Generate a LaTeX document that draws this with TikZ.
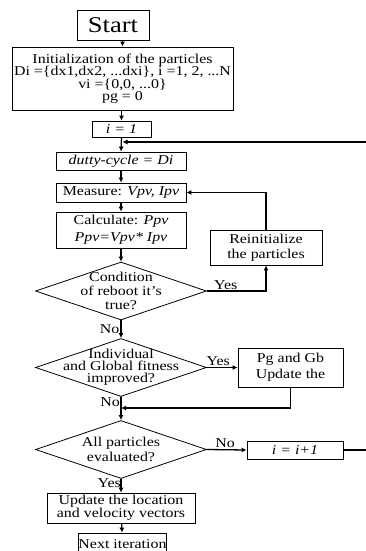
\documentclass[tikz,border=0pt]{standalone}
\usepackage{fontspec}
\setmainfont{Liberation Serif}[FakeStretch=1.18]
\usetikzlibrary{arrows.meta,positioning,calc,shapes.geometric}

\begin{document}
\begin{tikzpicture}[x=1pt,y=-1pt,
    box/.style={draw,line width=0.8pt,inner sep=0pt,align=center,
      font=\fontsize{13.5}{14}\selectfont},
    dia/.style={draw,diamond,line width=0.8pt,inner sep=0pt,
      minimum width=171pt,minimum height=58pt},
    arr/.style={line width=1.3pt,-{Latex[length=5pt,width=5pt]}},
    lbl/.style={inner sep=1pt,font=\fontsize{13.5}{14}\selectfont}]
  \useasboundingbox (0,0) rectangle (365,551);
  % main column
  \node[box,minimum width=72pt,minimum height=30pt,
    font=\fontsize{22.5}{24}\selectfont] (start) at (113,25) {Start};
  \node[box,minimum width=221pt,minimum height=63pt,
    font=\fontsize{13.5}{12.5}\selectfont] (init) at (122.5,78.5)
    {Initialization of the particles\\
     Di =\{dx1,dx2, ...dxi\}, i =1, 2, ...N\\
     vi =\{0,0, ...0\}\\ pg = 0};
  \node[box,minimum width=59pt,minimum height=16pt] (i1) at (121.5,129) {\textit{i = 1}};
  \node[box,minimum width=130pt,minimum height=18pt] (duty) at (121,161)
    {\textit{dutty-cycle = Di}};
  \node[box,minimum width=130pt,minimum height=19pt] (meas) at (121,192.5)
    {Measure: \textit{Vpv, Ipv}};
  \node[box,minimum width=130pt,minimum height=36pt,
    font=\fontsize{13.5}{16.5}\selectfont] (calc) at (121,230)
    {Calculate: \textit{Ppv}\\ \textit{Ppv=Vpv* Ipv}};
  \node[dia] (d1) at (121,291) {};
  \node[align=center,font=\fontsize{13.5}{14}\selectfont] at (d1)
    {Condition\\ of reboot it\char"0027 s\\ true?};
  \node[dia] (d2) at (121,367.5) {};
  \node[align=center,font=\fontsize{13.5}{12}\selectfont] at (d2)
    {Individual\\ and Global fitness\\ improved?};
  \node[dia] (d3) at (121,449.5) {};
  \node[align=center,font=\fontsize{13.5}{15}\selectfont] at (d3)
    {All particles\\ evaluated?};
  \node[box,minimum width=148pt,minimum height=30pt,
    font=\fontsize{13.5}{13}\selectfont] (upd) at (121,508)
    {Update the location\\ and velocity vectors};
  \node[box,minimum width=83pt,minimum height=22pt] (next) at (122.5,544) {Next iteration};
  % side boxes
  \node[box,minimum width=112pt,minimum height=35pt,
    font=\fontsize{13.5}{15}\selectfont] (reinit) at (266,247.5)
    {Reinitialize\\ the particles};
  \node[box,minimum width=105pt,minimum height=39pt,
    font=\fontsize{13.5}{16}\selectfont] (pg) at (290.5,367.5)
    {Pg and Gb\\ Update the};
  \node[box,minimum width=96pt,minimum height=18pt] (inc) at (295,450) {\textit{i = i+1}};
  \coordinate (loop) at (368,142);
  \coordinate (merge) at (121,408);

  % connectors
  \draw[arr] (init.north |- start.south) -- (init.north);
  \draw[arr] (init.south -| i1.south) -- (i1.north);
  \draw[arr] (i1.south) -- (duty.north);
  \draw[arr] (duty) -- (meas);
  \draw[arr] (meas) -- (calc);
  \draw[arr] (calc) -- (d1.north);
  \draw[arr] (d1.east) -- node[lbl,above,pos=0.32] {Yes} (d1.east -| reinit.south) -- (reinit.south);
  \draw[arr] (reinit.north) |- (meas.east);
  \draw[arr] (d1.south) -- node[lbl,left] {No} (d2.north);
  \draw[arr] (d2.east) -- node[lbl,above,pos=0.37] {Yes} (pg.west);
  \draw[arr] (pg.south) |- (merge);
  \node[lbl,below left] at (d2.south) {No};
  \draw[arr] (d2.south) -- (d3.north);
  \draw[arr] (d3.east) -- node[lbl,above,pos=0.46] {No} (inc.west);
  \draw[line width=1.3pt] (inc.east) -| (loop);
  \draw[arr] (loop) -- ($(loop -| i1.south)+(1,0)$);
  \node[lbl,below left,inner sep=0pt] at (d3.south) {Yes};
  \draw[arr] (d3.south) -- (upd.north);
  \draw[arr] (upd) -- (next);
\end{tikzpicture}
\end{document}
